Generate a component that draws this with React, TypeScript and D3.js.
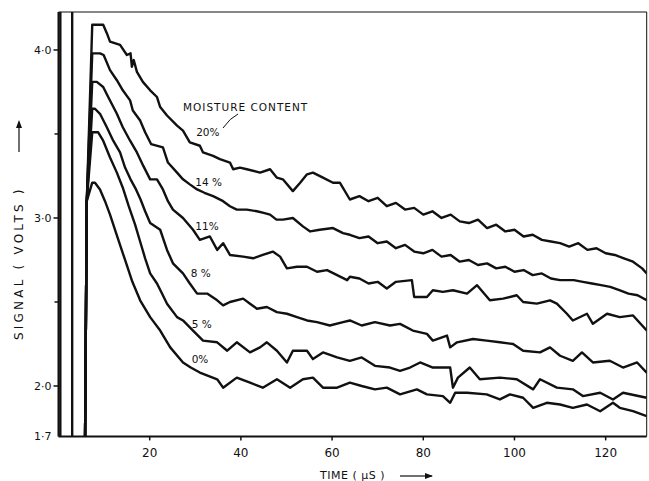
import React from 'react';
import * as d3 from 'd3';

// time (µs) / signal (volts)
const xTicks = [20, 40, 60, 80, 100, 120];
const yTicks = [2.0, 3.0, 4.0];
const yMinorTicks = [2.5, 3.5];
const yTickLabels = ['2·0', '3·0', '4·0'];

const moistureLabels = ['20%', '14 %', '11%', '8 %', '5 %', '0%'];
// where each label sits (time, volts)
const labelAt: [number, number][] = [
  [30.2, 3.51], [30.0, 3.21], [30.0, 2.95], [29.0, 2.67], [29.2, 2.37], [29.2, 2.16],
];

// the saturating pulse at t=0
const pulse: [number, number][] = [[0.4, 1.6], [0.4, 4.5], [3.0, 4.5], [3.0, 1.6], [5.8, 1.6]];

const trace20: [number, number][] = [
  [5.8, 1.6], [6.2, 3.1], [7.4, 4.15], [9.8, 4.15], [10.6, 4.10], [11.3, 4.05], [13.5, 4.03], [15.0, 3.97],
  [15.8, 3.98], [16.1, 3.90], [16.5, 3.94], [17.2, 3.87], [18.5, 3.81], [20.1, 3.76], [21.6, 3.72],
  [22.3, 3.66], [23.8, 3.61], [26.0, 3.55], [27.3, 3.52], [28.8, 3.45], [31.0, 3.43], [31.7, 3.39],
  [33.9, 3.37], [35.4, 3.35], [37.6, 3.33], [38.3, 3.29], [39.8, 3.30], [41.3, 3.29], [44.2, 3.27], [46.4, 3.29],
  [47.9, 3.24], [49.2, 3.23], [51.4, 3.16], [53.0, 3.21], [54.5, 3.26], [55.8, 3.27], [58.0, 3.24],
  [60.2, 3.21], [61.7, 3.21], [63.9, 3.11], [66, 3.13], [68, 3.10], [70, 3.12], [72, 3.07],
  [74, 3.09], [76, 3.05], [78, 3.06], [80, 3.02], [82, 3.04], [84, 3.00], [86, 3.02], [88, 2.98],
  [90, 2.97], [92, 2.99], [94, 2.94], [96, 2.96], [98, 2.92], [100, 2.93], [102, 2.89], [104, 2.90],
  [106, 2.87], [108, 2.86], [110, 2.85], [112, 2.83], [114, 2.85], [116, 2.81], [118, 2.82],
  [120, 2.79], [122, 2.78], [124, 2.76], [126, 2.74], [128, 2.70], [129, 2.67],
];

const trace14: [number, number][] = [
  [5.8, 1.6], [6.2, 3.1], [7.4, 3.98], [9.1, 3.98], [9.9, 3.97], [11.3, 3.88], [12.8, 3.82], [14.1, 3.76],
  [15.7, 3.70], [16.3, 3.64], [17.9, 3.58], [19.0, 3.51], [20.3, 3.44], [22.9, 3.42], [24.0, 3.33],
  [26.0, 3.27], [27.3, 3.23], [28.8, 3.20], [30.4, 3.17], [32.0, 3.15], [33.9, 3.13], [36.1, 3.10],
  [37.6, 3.07], [39.1, 3.05], [41.3, 3.05], [43.5, 3.04], [45.0, 3.03], [46.4, 3.02],
  [47.8, 2.99], [49.2, 2.99], [51.4, 3.00], [53.6, 2.95], [55.2, 2.92], [57.3, 2.93], [60.2, 2.94],
  [62.4, 2.91], [63.9, 2.90], [66, 2.88], [68, 2.89], [70, 2.85], [72, 2.86], [74, 2.82], [76, 2.84],
  [78, 2.80], [80, 2.79], [82, 2.81], [84, 2.77], [86, 2.78], [88, 2.74], [90, 2.75], [92, 2.72],
  [94, 2.73], [96, 2.70], [98, 2.71], [100, 2.68], [102, 2.69], [104, 2.66], [106, 2.67],
  [108, 2.64], [110, 2.63], [113, 2.63], [115, 2.62], [117, 2.61], [119, 2.60], [121, 2.59], [123, 2.57],
  [125, 2.55], [127, 2.54], [129, 2.51],
];

const trace11: [number, number][] = [
  [5.8, 1.6], [6.2, 3.1], [7.4, 3.81], [8.4, 3.81], [9.8, 3.78], [10.9, 3.72], [12.8, 3.62], [14.1, 3.54],
  [15.7, 3.46], [17.2, 3.39], [18.6, 3.31], [20.1, 3.23], [21.6, 3.23], [22.9, 3.17], [24.0, 3.10], [25.1, 3.05], [27.3, 3.00],
  [29.5, 2.93], [31.0, 2.87], [33.2, 2.89], [34.8, 2.81], [36.1, 2.85], [37.6, 2.78], [40.5, 2.77],
  [42.7, 2.76], [44.8, 2.78], [47.0, 2.80], [48.6, 2.77], [50.1, 2.70], [52.3, 2.71], [54.5, 2.71],
  [56.7, 2.68], [58.9, 2.69], [61.1, 2.66], [63.3, 2.63], [63.9, 2.65], [66, 2.64], [68, 2.61],
  [70, 2.62], [72, 2.58], [74, 2.62], [77.5, 2.63], [78.0, 2.53], [80.8, 2.53], [82.1, 2.57],
  [84.3, 2.56], [86.5, 2.57], [89.6, 2.55], [91.8, 2.60], [94.6, 2.51], [97.5, 2.52], [100.5, 2.54], [101.9, 2.50],
  [104.9, 2.49], [107.8, 2.51], [109.3, 2.49], [111.5, 2.43], [112.8, 2.39], [115.9, 2.43],
  [117.2, 2.37], [120.3, 2.43], [123.1, 2.41], [126.0, 2.42], [129, 2.33],
];

const trace8: [number, number][] = [
  [5.8, 1.6], [6.2, 3.1], [7.4, 3.65], [8.0, 3.65], [9.1, 3.62], [10.6, 3.54], [12.0, 3.46], [13.5, 3.39],
  [14.6, 3.30], [15.8, 3.23], [17.0, 3.17], [18.0, 3.11], [19.0, 3.04], [20.1, 2.97], [22.3, 2.93], [23.8, 2.81],
  [25.1, 2.73], [27.3, 2.67], [28.8, 2.61], [30.4, 2.55], [32.6, 2.55], [34.8, 2.51], [36.1, 2.48],
  [37.6, 2.50], [40.5, 2.52], [42.0, 2.49], [43.5, 2.46], [45.7, 2.47], [47.9, 2.44], [50.1, 2.43],
  [52.3, 2.41], [54.5, 2.39], [56.7, 2.38], [59.5, 2.36], [62.4, 2.38], [63.9, 2.39], [66.5, 2.36],
  [69.4, 2.38], [72.7, 2.36], [74.9, 2.37], [77.7, 2.33], [80.8, 2.31], [82.1, 2.27], [85.2, 2.30],
  [85.9, 2.23], [87.4, 2.26], [90.9, 2.28], [93.9, 2.27], [96.8, 2.26], [99.7, 2.25], [101.9, 2.21],
  [105.6, 2.20], [107.8, 2.23], [110.0, 2.18], [112.8, 2.15], [114.8, 2.20], [117.2, 2.14],
  [120.9, 2.15], [123.8, 2.11], [126.9, 2.14], [129, 2.08],
];

const trace5: [number, number][] = [
  [5.8, 1.6], [6.2, 3.1], [7.4, 3.51], [8.7, 3.51], [9.8, 3.46], [11.3, 3.36], [12.8, 3.27], [14.1, 3.18],
  [15.4, 3.07], [16.8, 2.96], [17.9, 2.86], [19.0, 2.76], [20.1, 2.67], [21.6, 2.61], [22.7, 2.55], [23.8, 2.49],
  [26.0, 2.41], [27.3, 2.39], [29.5, 2.33], [31.7, 2.27], [34.8, 2.26], [37.0, 2.21], [39.1, 2.26],
  [42.0, 2.20], [44.2, 2.23], [45.7, 2.26], [47.9, 2.21], [50.1, 2.14], [51.4, 2.21], [54.5, 2.21],
  [55.8, 2.16], [58.0, 2.20], [61.1, 2.17], [63.9, 2.15], [66.5, 2.17], [69.4, 2.12], [72.7, 2.11],
  [74.9, 2.09], [77.1, 2.11], [79.3, 2.14], [82.1, 2.11], [85.9, 2.11], [86.5, 1.99], [87.6, 2.05],
  [90.2, 2.11], [92.4, 2.04], [96.8, 2.05], [100.5, 2.04], [104.1, 1.98], [105.6, 2.04], [109.3, 1.99],
  [112.8, 1.98], [115.0, 1.94], [118.8, 1.96], [121.6, 1.92], [123.8, 1.96], [129, 1.93],
];

const trace0: [number, number][] = [
  [5.8, 1.6], [6.2, 3.1], [7.4, 3.21], [8.0, 3.21], [9.1, 3.17], [10.2, 3.10], [11.3, 3.02], [13.0, 2.88],
  [14.6, 2.75], [16.2, 2.62], [17.9, 2.51], [20.1, 2.41], [22.3, 2.33], [24.5, 2.23], [27.3, 2.14],
  [29.0, 2.11], [31.0, 2.08], [34.8, 2.04], [36.1, 1.99], [39.1, 2.05], [42.0, 2.02], [44.8, 1.99],
  [47.9, 2.04], [50.8, 1.99], [53.6, 2.04], [55.8, 2.05], [58.0, 1.99], [61.1, 1.99], [63.9, 2.02],
  [66.5, 2.00], [69.4, 1.98], [72.0, 1.99], [74.9, 1.95], [78.6, 1.98], [80.8, 1.95], [84.3, 1.94],
  [85.9, 1.90], [87.0, 1.96], [89.6, 1.96], [93.9, 1.95], [96.8, 1.92], [99.0, 1.95], [101.9, 1.93],
  [104.1, 1.87], [107.1, 1.90], [110.0, 1.89], [112.8, 1.87], [115.9, 1.89], [118.8, 1.85],
  [121.6, 1.90], [123.1, 1.87], [126.0, 1.85], [129, 1.82],
];

const traces = [trace20, trace14, trace11, trace8, trace5, trace0];

const W = 649;
const H = 481;
const FONT = "'DejaVu Sans', sans-serif";

export default function App() {
  const x = d3.scaleLinear().domain([0, 129]).range([58.5, 646.7]);
  const y = d3.scaleLinear().domain([1.7, 4.226]).range([436.4, 12]);

  const line = d3.line<[number, number]>()
    .x(d => x(d[0]))
    .y(d => y(d[1]));

  const [x0, x1] = x.range();
  const [yb, yt] = y.range();

  return (
    <svg width={W} height={H} style={{ position: 'absolute', left: 0, top: 0, background: '#fff' }}
      fontFamily={FONT}>
      <defs>
        <clipPath id="plotClip">
          <rect x={x0} y={yt} width={x1 - x0} height={yb - yt} />
        </clipPath>
      </defs>

      {/* frame */}
      <line x1={x0} x2={x0} y1={yt} y2={yb} stroke="#111" strokeWidth={2} />
      <line x1={x0} x2={x1} y1={yb} y2={yb} stroke="#111" strokeWidth={2} />
      <line x1={x0} x2={x1} y1={yt} y2={yt} stroke="#111" strokeWidth={1.2} />
      <line x1={x1} x2={x1} y1={yt} y2={yb} stroke="#111" strokeWidth={1} />

      {/* y ticks */}
      {yTicks.map((v, i) => (
        <g key={v}>
          <line x1={x0 - 5} x2={x0} y1={y(v)} y2={y(v)} stroke="#111" strokeWidth={1.5} />
          <text x={x0 - 7} y={y(v)} dy="0.35em" textAnchor="end" fontSize={11} fill="#111">
            {yTickLabels[i]}
          </text>
        </g>
      ))}
      {yMinorTicks.map(v => (
        <line key={v} x1={x0 - 4} x2={x0} y1={y(v)} y2={y(v)} stroke="#111" strokeWidth={1.5} />
      ))}
      <text x={x0 - 7} y={y(1.7)} dy="0.35em" textAnchor="end" fontSize={11} fill="#111">1·7</text>

      {/* x ticks */}
      {xTicks.map(v => (
        <g key={v}>
          <line x1={x(v)} x2={x(v)} y1={yb} y2={yb + 4} stroke="#111" strokeWidth={1.5} />
          <text x={x(v)} y={yb + 16} dy="0.35em" textAnchor="middle" fontSize={12} fill="#111">{v}</text>
        </g>
      ))}

      {/* axis titles */}
      <text x={320} y={475} dy="0.35em" fontSize={11} fill="#111" letterSpacing={0.5}>TIME ( μS )</text>
      <line x1={400} x2={432} y1={476} y2={476} stroke="#111" strokeWidth={1.2} />
      <path d="M433,476 L425,473 L425,479 Z" fill="#111" />

      <g transform="translate(19,340) rotate(-90)">
        <text x={0} y={0} dy="0.35em" fontSize={12} fill="#111" letterSpacing={3.2}>SIGNAL ( VOLTS )</text>
        <line x1={188} x2={218} y1={0} y2={0} stroke="#111" strokeWidth={1.2} />
        <path d="M220,0 L212,-3 L212,3 Z" fill="#111" />
      </g>

      {/* traces */}
      <g clipPath="url(#plotClip)" fill="none" stroke="#111" strokeWidth={2.4} strokeLinejoin="round">
        <path d={line(pulse) ?? ''} />
        {traces.map((t, i) => (
          <path key={i} d={line(t) ?? ''} />
        ))}
      </g>

      {/* labels */}
      <text x={183} y={107} dy="0.35em" fontSize={10.5} fill="#111" letterSpacing={1}>MOISTURE  CONTENT</text>
      <path d="M238,114 Q230,118 223,128" fill="none" stroke="#111" strokeWidth={1} />
      {moistureLabels.map((lab, i) => (
        <text key={lab} x={x(labelAt[i][0])} y={y(labelAt[i][1])} dy="0.35em" fontSize={10.5} fill="#111">
          {lab}
        </text>
      ))}
    </svg>
  );
}
